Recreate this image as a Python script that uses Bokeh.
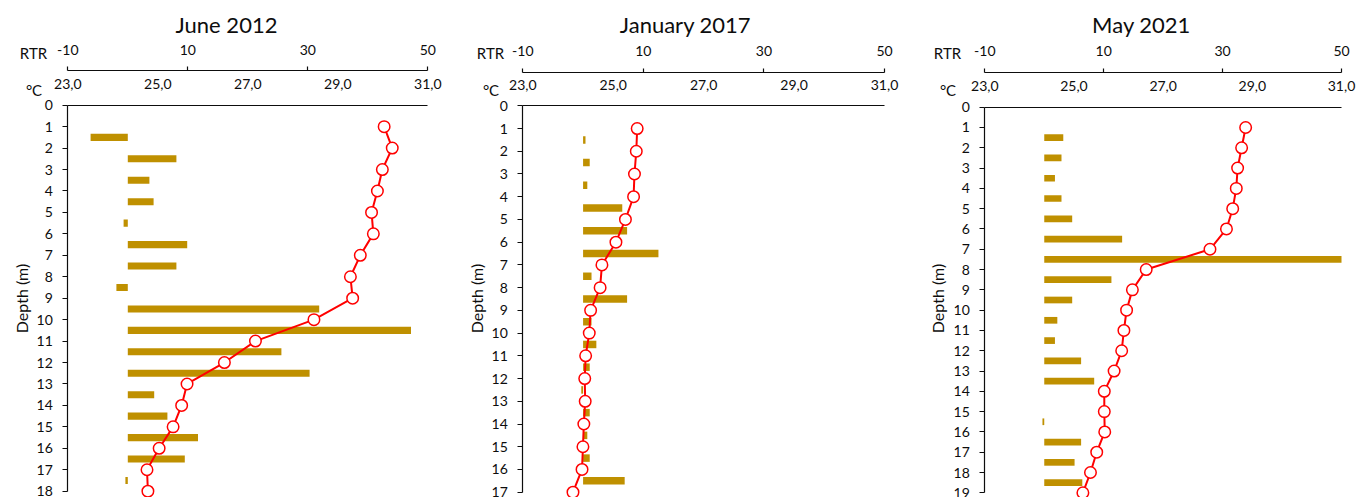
import math

from bokeh.plotting import figure
from bokeh.models import Range1d, LinearAxis, FixedTicker, Label
from bokeh.layouts import row
from bokeh.embed import file_html
from bokeh.resources import INLINE

FONT = "Lato"
TEXT = "#0d0d0d"
BAR = "#BF9000"
LINE = "#FF0000"
HEIGHT = 497

# Temperature profiles (degC) at 1 m steps
depth_2012 = [1, 2, 3, 4, 5, 6, 7, 8, 9, 10, 11, 12, 13, 14, 15, 16, 17, 18]
temp_2012 = [30.03, 30.21, 29.99, 29.88, 29.75, 29.79, 29.50, 29.28, 29.33,
             28.47, 27.17, 26.48, 25.65, 25.53, 25.34, 25.03, 24.76, 24.78]

depth_2017 = [1, 2, 3, 4, 5, 6, 7, 8, 9, 10, 11, 12, 13, 14, 15, 16, 17]
temp_2017 = [25.53, 25.51, 25.47, 25.45, 25.27, 25.06, 24.75, 24.71, 24.50,
             24.47, 24.39, 24.37, 24.38, 24.35, 24.33, 24.31, 24.11]

depth_2021 = [1, 2, 3, 4, 5, 6, 7, 8, 9, 10, 11, 12, 13, 14, 15, 16, 17, 18, 19]
temp_2021 = [28.85, 28.76, 28.67, 28.64, 28.56, 28.42, 28.05, 26.62, 26.31,
             26.18, 26.12, 26.07, 25.90, 25.68, 25.68, 25.69, 25.51, 25.37, 25.20]

# Relative thermal resistance between consecutive layers
rtr_depth_2012 = [1.5, 2.5, 3.5, 4.5, 5.5, 6.5, 7.5, 8.5, 9.5, 10.5, 11.5,
                  12.5, 13.5, 14.5, 15.5, 16.5, 17.5]
rtr_2012 = [-6.2, 8.1, 3.6, 4.3, -0.7, 9.9, 8.1, -1.9, 31.9, 47.2, 25.6,
            30.3, 4.4, 6.6, 11.7, 9.5, -0.4]

rtr_depth_2017 = [1.5, 2.5, 3.5, 4.5, 5.5, 6.5, 7.5, 8.5, 9.5, 10.5, 11.5,
                  12.5, 13.5, 14.5, 15.5, 16.5]
rtr_2017 = [0.4, 1.1, 0.7, 6.5, 7.3, 12.5, 1.4, 7.3, 1.4, 2.2, 1.1,
            -0.3, 1.1, 0.7, 1.1, 6.9]

rtr_depth_2021 = [1.5, 2.5, 3.5, 4.5, 5.5, 6.5, 7.5, 8.5, 9.5, 10.5, 11.5,
                  12.5, 13.5, 14.5, 15.5, 16.5, 17.5, 18.5]
rtr_2021 = [3.2, 2.9, 1.8, 2.9, 4.7, 13.1, 50.0, 11.3, 4.7, 2.2, 1.8,
            6.2, 8.4, 0.0, -0.3, 6.2, 5.1, 6.4]

temp_min, temp_max = 23, 31
rtr_min, rtr_max = -10, 50
temp_ticks = [23, 25, 27, 29, 31]
temp_tick_labels = ["23,0", "25,0", "27,0", "29,0", "31,0"]
rtr_ticks = [-10, 10, 30, 50]
rtr_tick_labels = ["-10", "10", "30", "50"]


def style_axis(ax):
    ax.major_label_text_font = FONT
    ax.major_label_text_font_size = "14px"
    ax.major_label_text_color = TEXT
    ax.axis_line_color = TEXT
    ax.axis_line_width = 1.2
    ax.major_tick_line_color = TEXT
    ax.major_tick_line_width = 1.2
    ax.minor_tick_line_color = None
    ax.major_tick_in = 0


def text(p, s, x, y, size="15px", angle=0.0):
    # x, y in pixels from the canvas' top-left corner
    p.add_layout(Label(x=x, y=HEIGHT - y, x_units="screen", y_units="screen",
                       text=s, text_font=FONT, text_font_size=size,
                       text_color=TEXT, text_align="center",
                       text_baseline="middle", angle=angle))


def make_panel(title, depth, temp, rtr_depth, rtr, max_depth, box):
    # the plot frame fills the canvas; box gives where the data box sits
    W = box["width"]
    x0, x1, y0, y1 = box["x0"], box["x1"], box["y0"], box["y1"]
    t_px = (temp_max - temp_min) / (x1 - x0)
    r_px = (rtr_max - rtr_min) / (x1 - x0)
    d_px = max_depth / (y1 - y0)

    p = figure(width=W, height=HEIGHT, output_backend="svg",
               toolbar_location=None, min_border=0,
               x_axis_location=None, y_axis_location=None,
               x_range=Range1d(temp_min - x0 * t_px, temp_max + (W - x1) * t_px),
               y_range=Range1d(max_depth + (HEIGHT - y1) * d_px, -y0 * d_px))
    p.extra_x_ranges = {"rtr": Range1d(rtr_min - x0 * r_px,
                                       rtr_max + (W - x1) * r_px)}
    p.grid.visible = False
    p.outline_line_color = None
    p.background_fill_color = "white"
    p.border_fill_color = "white"

    # temperature axis along depth 0
    tx = LinearAxis(ticker=FixedTicker(ticks=temp_ticks), fixed_location=0,
                    bounds=(temp_min, temp_max))
    style_axis(tx)
    tx.major_label_overrides = dict(zip(temp_ticks, temp_tick_labels))
    tx.major_tick_out = 0
    tx.major_label_standoff = 16
    p.add_layout(tx, "above")

    # RTR axis above the temperature labels
    ra = LinearAxis(x_range_name="rtr", ticker=FixedTicker(ticks=rtr_ticks),
                    fixed_location=(box["rtr_y"] - y0) * d_px,
                    bounds=(rtr_min, rtr_max))
    style_axis(ra)
    ra.major_label_overrides = dict(zip(rtr_ticks, rtr_tick_labels))
    ra.major_tick_out = 4
    ra.major_label_standoff = 12
    p.add_layout(ra, "above")

    # depth axis
    ya = LinearAxis(ticker=FixedTicker(ticks=list(range(0, max_depth + 1))),
                    fixed_location=temp_min, bounds=(0, max_depth))
    style_axis(ya)
    ya.major_tick_out = 5
    ya.major_label_standoff = 10
    p.add_layout(ya, "left")

    p.hbar(y=rtr_depth, left=0, right=rtr, height=0.33, fill_color=BAR,
           line_color=None, x_range_name="rtr")
    p.line(temp, depth, color=LINE, line_width=2)
    p.scatter(temp, depth, size=11.5, fill_color="white", line_color=LINE,
              line_width=1.5)

    text(p, title, box["title_x"], 24, size="22px")
    text(p, "RTR", box["side_x"], 52)
    text(p, "°C", box["side_x"] + 0.5, 89)
    text(p, "Depth (m)", box["depth_x"], 298, size="16px", angle=math.pi / 2)
    return p


box_2012 = dict(width=460, x0=67.3, x1=427.3, y0=104.7, y1=490.7, rtr_y=70.3,
                title_x=226, side_x=33, depth_x=21)
box_2017 = dict(width=455, x0=62.3, x1=424.0, y0=105.3, y1=491.7, rtr_y=71.5,
                title_x=225, side_x=30, depth_x=16)
box_2021 = dict(width=442, x0=69.3, x1=426.0, y0=106.7, y1=492.3, rtr_y=71.5,
                title_x=226, side_x=32, depth_x=22)

p1 = make_panel("June 2012", depth_2012, temp_2012, rtr_depth_2012, rtr_2012,
                18, box_2012)
p2 = make_panel("January 2017", depth_2017, temp_2017, rtr_depth_2017, rtr_2017,
                17, box_2017)
p3 = make_panel("May 2021", depth_2021, temp_2021, rtr_depth_2021, rtr_2021,
                19, box_2021)

layout = row(p1, p2, p3)
open("out.html", "w").write(file_html(layout, INLINE))
